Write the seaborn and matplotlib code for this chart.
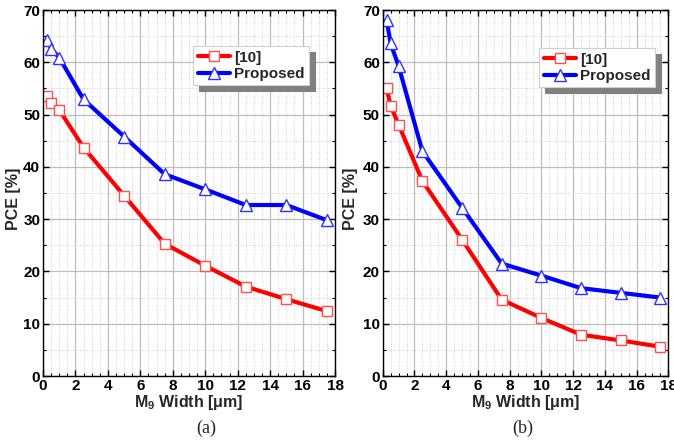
import matplotlib
matplotlib.use("Agg")
import matplotlib.pyplot as plt
from matplotlib.ticker import MultipleLocator
import seaborn as sns
import numpy as np

sns.set_style("ticks")
plt.rcParams['font.family'] = ['Liberation Sans', 'DejaVu Sans']
plt.rcParams['mathtext.fontset'] = 'custom'
plt.rcParams['mathtext.rm'] = 'Liberation Sans:bold'
plt.rcParams['mathtext.it'] = 'Liberation Sans:bold'
plt.rcParams['mathtext.bf'] = 'Liberation Sans:bold'

# Data
widths = [0.25, 0.5, 1.0, 2.5, 5.0, 7.5, 10.0, 12.5, 15.0, 17.5]
ref_a = [53.6, 52.2, 50.9, 43.7, 34.5, 25.3, 21.1, 17.1, 14.7, 12.4]
prop_a = [64.3, 62.6, 60.9, 52.9, 45.8, 38.6, 35.7, 32.7, 32.7, 29.8]
ref_b = [55.0, 51.7, 48.1, 37.3, 26.1, 14.6, 11.1, 7.9, 6.8, 5.6]
prop_b = [68.0, 63.6, 59.3, 43.0, 32.2, 21.5, 19.2, 16.8, 15.9, 15.0]
series_labels = ["[10]", "Proposed"]
captions = ["(a)", "(b)"]
xticks = [0, 2, 4, 6, 8, 10, 12, 14, 16, 18]
yticks = [0, 10, 20, 30, 40, 50, 60, 70]

fig = plt.figure(figsize=(6.74, 4.42), dpi=100)
ax_a = fig.add_axes([43/674, 1-376/442, (335-43)/674, (376-10)/442])
ax_b = fig.add_axes([382.7/674, 1-376/442, (668.3-382.7)/674, (376-10)/442])

panels = [(ax_a, ref_a, prop_a, (193/674, 1-46/442), 21, 206),
          (ax_b, ref_b, prop_b, (539/674, 1-48/442), 358, 523)]

for i, (ax, ref, prop, legpos, ylab_x, cap_x) in enumerate(panels):
    ax.set_axisbelow(True)
    ax.xaxis.set_minor_locator(MultipleLocator(0.5))
    ax.yaxis.set_minor_locator(MultipleLocator(5))
    ax.grid(which='major', color='#bdbdbd', linewidth=0.9, linestyle='-')
    ax.grid(which='minor', color='#d0d0d0', linewidth=0.7, linestyle=(0, (1, 1.5)))
    sns.lineplot(x=widths, y=ref, ax=ax, color='#ff0000', linewidth=3.0,
                 marker='s', markersize=7.5, mfc='white', mec='#ff5050', mew=1.0,
                 label=series_labels[0])
    sns.lineplot(x=widths, y=prop, ax=ax, color='#0000ff', linewidth=3.0,
                 marker='^', markersize=9, mfc='white', mec='#3030ff', mew=1.0,
                 label=series_labels[1])
    ax.set_xlim(0, 18)
    ax.set_ylim(0, 70)
    ax.set_xticks(xticks)
    ax.set_yticks(yticks)
    ax.tick_params(which='both', direction='in', top=True, right=True,
                   labelsize=11, pad=2, colors='black')
    ax.tick_params(which='major', length=4, width=1)
    ax.tick_params(which='minor', length=2, width=0.8)
    for lbl in ax.get_xticklabels() + ax.get_yticklabels():
        lbl.set_fontweight('bold')
    for sp in ax.spines.values():
        sp.set_visible(True)
        sp.set_color('black')
        sp.set_linewidth(1.0)
    ax.set_xlabel(r"M$_{9}$ Width [μm]", fontsize=11.5, fontweight='bold', labelpad=0)
    ax.set_ylabel("PCE [%]", fontsize=11.5, fontweight='bold')
    ax.yaxis.set_label_coords(ylab_x/674, 1-199/442, transform=fig.transFigure)
    leg = ax.legend(loc='upper left', bbox_to_anchor=legpos, bbox_transform=fig.transFigure,
                    frameon=True, fancybox=False,
                    shadow={'ox': 4, 'oy': -4, 'color': '#808080', 'alpha': 1.0},
                    prop={'weight': 'bold', 'size': 11}, handlelength=2.1,
                    handletextpad=0.3, borderpad=0.3, borderaxespad=0,
                    labelspacing=0.15)
    leg.get_frame().set_edgecolor('#d0d0d0')
    leg.get_frame().set_linewidth(0.8)
    fig.text(cap_x/674, 1-428/442, captions[i], ha='center', va='center',
             fontsize=13, family=['Liberation Serif', 'DejaVu Serif'])

fig.savefig("out.png", dpi=100)
